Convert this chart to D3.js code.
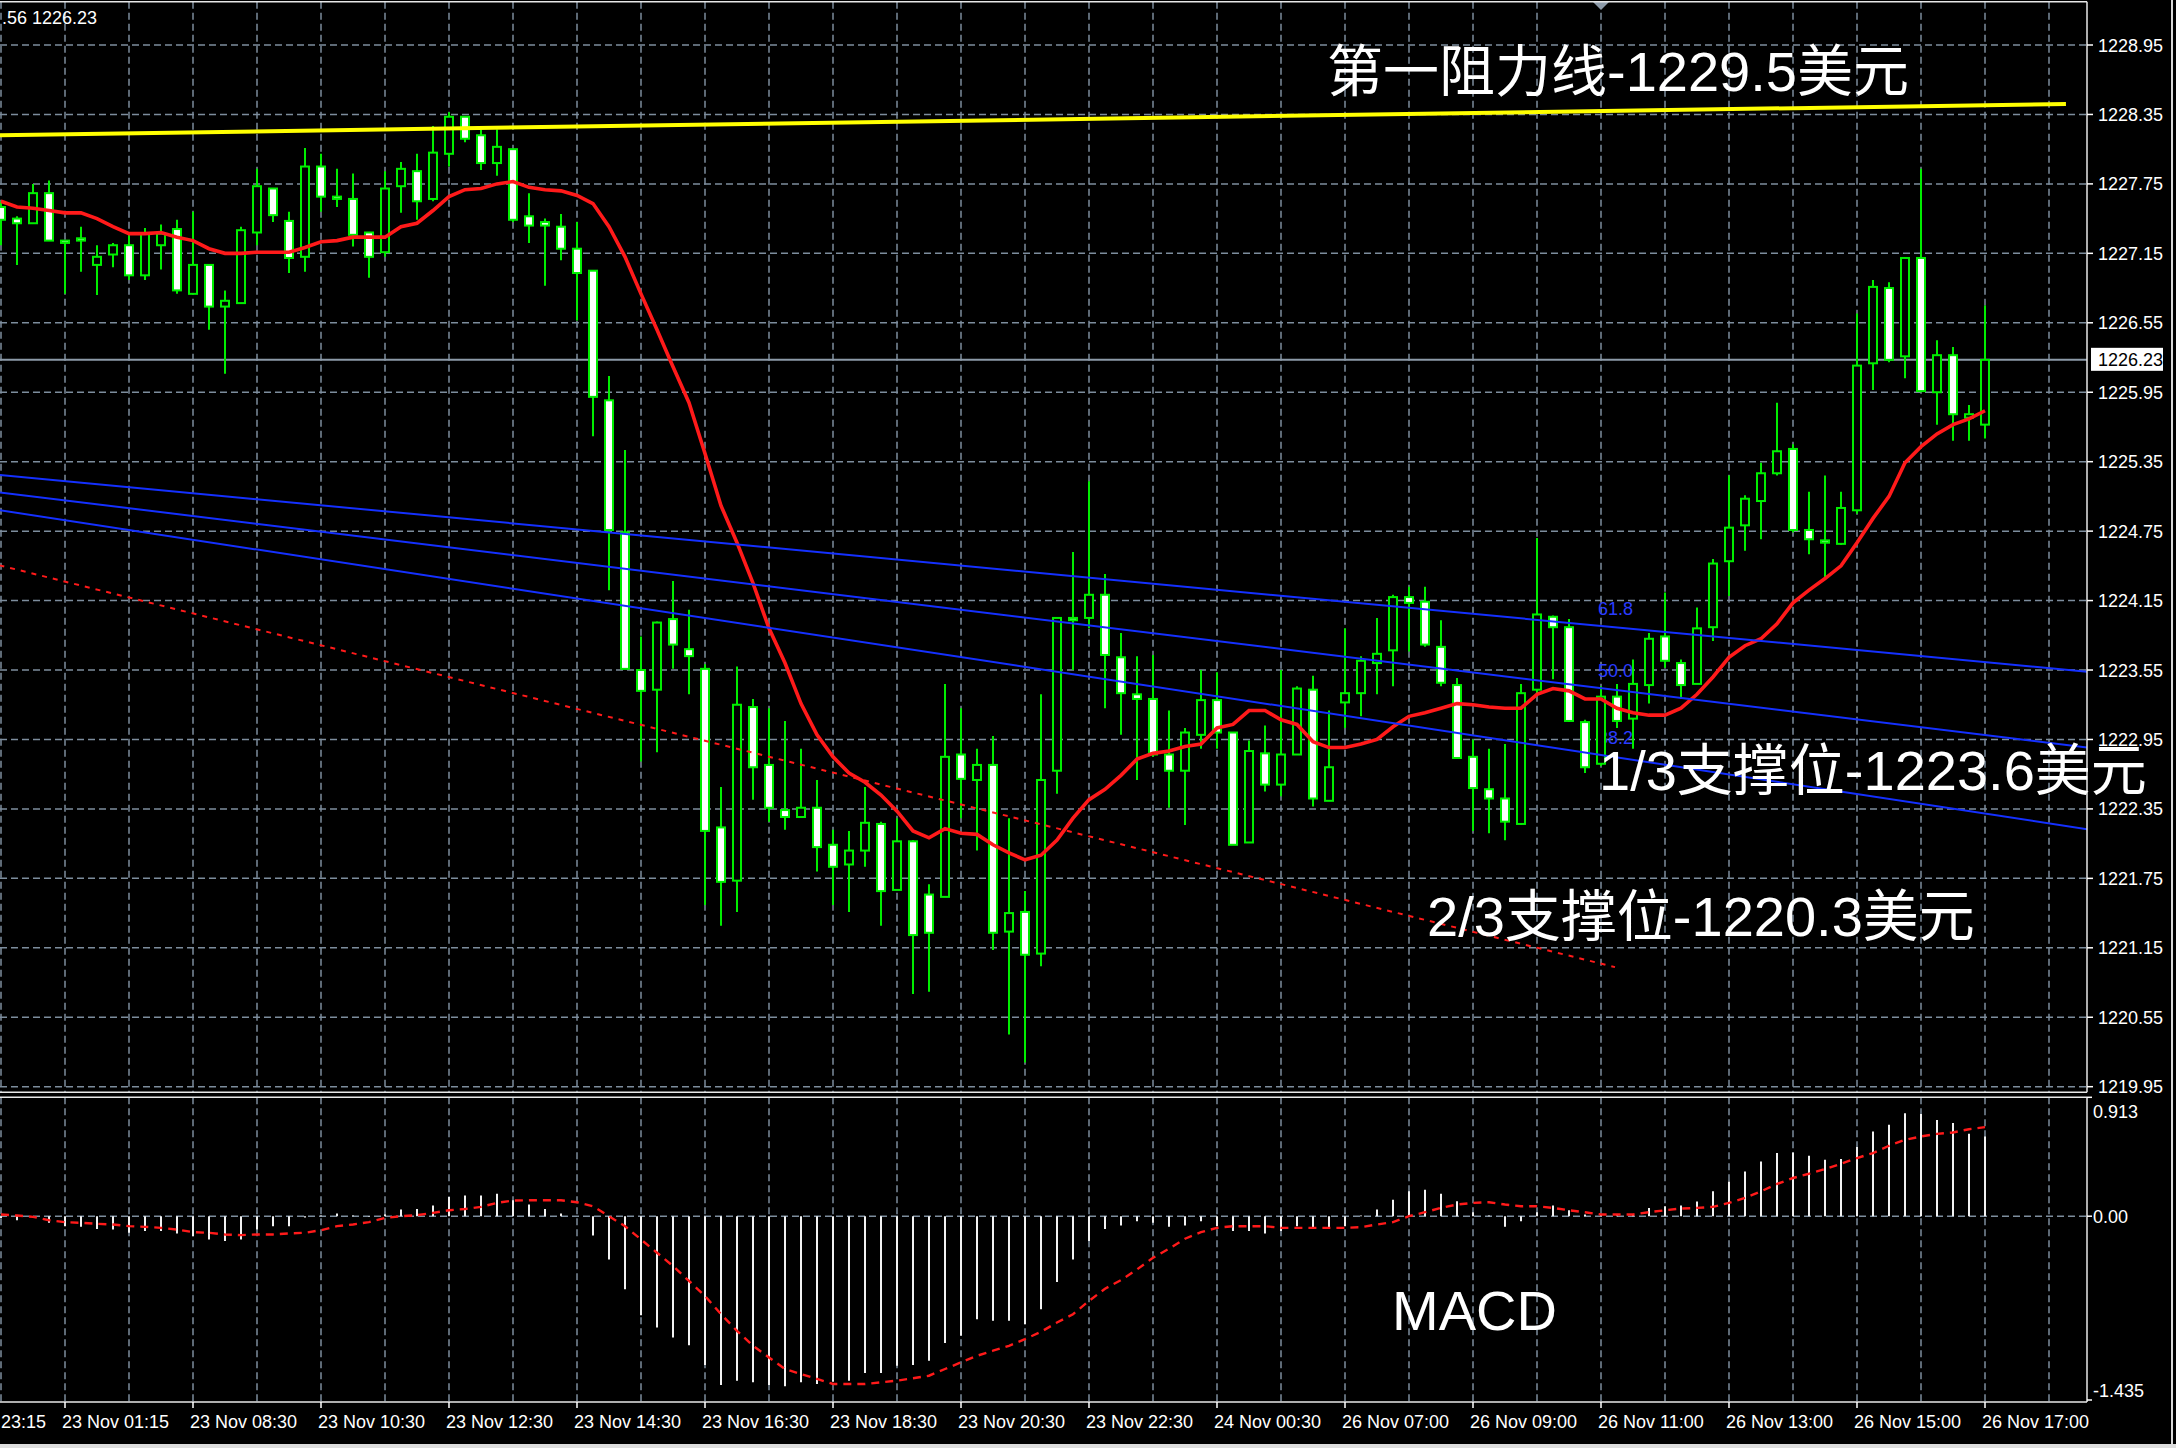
<!DOCTYPE html>
<html><head><meta charset="utf-8">
<script src="https://cdn.jsdelivr.net/npm/d3@7/dist/d3.min.js"></script>
<style>html,body{margin:0;padding:0;background:#000;}svg{display:block;}</style>
</head><body>
<svg id="c" width="2176" height="1448"></svg>
<script>
// ---------------- DATA ----------------
const opens = [1227.55,1227.45,1227.41,1227.67,1227.26,1227.28,1227.05,1227.14,1227.22,1226.96,
1227.22,1227.36,1226.80,1227.05,1226.69,1226.72,1227.33,1227.71,1227.43,1227.12,
1227.90,1227.64,1227.62,1227.33,1227.16,1227.73,1227.86,1227.62,1228.01,1228.33,
1228.17,1227.93,1228.05,1227.47,1227.42,1227.38,1227.19,1227.00,1225.88,1224.74,
1223.55,1223.38,1223.99,1223.73,1223.56,1222.19,1221.73,1223.23,1222.73,1222.34,
1222.28,1222.36,1222.04,1221.87,1221.99,1222.22,1221.65,1222.07,1221.61,1221.59,
1222.82,1222.60,1222.73,1221.29,1221.46,1221.10,1222.68,1224.00,1224.00,1224.20,
1223.66,1223.34,1223.30,1222.82,1222.68,1222.99,1223.29,1223.01,1222.06,1222.83,
1222.56,1222.82,1223.38,1222.42,1223.27,1223.35,1223.61,1223.72,1224.18,1224.14,
1223.75,1223.42,1222.80,1222.52,1222.44,1222.22,1223.38,1224.01,1223.92,1223.10,
1222.74,1223.32,1223.13,1223.42,1223.84,1223.61,1223.43,1223.92,1224.49,1224.80,
1225.01,1225.25,1225.46,1224.76,1224.67,1224.64,1224.93,1226.20,1226.85,1226.26,
1227.11,1225.95,1226.27,1225.73,1225.67];
const highs = [1227.60,1227.47,1227.75,1227.78,1227.26,1227.38,1227.22,1227.24,1227.31,1227.37,
1227.40,1227.44,1227.51,1227.05,1226.83,1227.38,1227.88,1227.71,1227.51,1228.06,
1228.01,1227.88,1227.84,1227.33,1227.86,1227.94,1228.01,1228.25,1228.37,1228.33,
1228.22,1228.22,1228.05,1227.67,1227.45,1227.49,1227.42,1227.00,1226.09,1225.45,
1223.84,1223.97,1224.32,1224.07,1223.60,1222.54,1223.58,1223.30,1223.22,1223.11,
1222.87,1222.60,1222.17,1222.16,1222.54,1222.24,1222.27,1222.08,1221.70,1223.43,
1223.22,1222.87,1222.98,1222.27,1221.64,1223.34,1224.00,1224.57,1225.18,1224.38,
1223.87,1223.67,1223.68,1223.20,1223.05,1223.55,1223.53,1223.01,1222.94,1223.07,
1223.55,1223.41,1223.50,1223.20,1223.91,1223.67,1224.00,1224.20,1224.27,1224.27,
1223.98,1223.48,1222.95,1222.87,1222.91,1223.43,1224.69,1224.02,1223.99,1223.12,
1223.41,1223.43,1223.64,1223.87,1224.22,1223.64,1224.09,1224.51,1225.23,1225.06,
1225.34,1225.86,1225.50,1225.09,1225.23,1225.09,1226.63,1226.92,1226.90,1227.11,
1227.88,1226.40,1226.34,1225.84,1226.70];
const lows = [1227.22,1227.05,1227.41,1227.26,1226.80,1226.99,1226.79,1227.03,1226.92,1226.92,
1227.01,1226.80,1226.80,1226.49,1226.11,1226.72,1227.22,1227.42,1226.98,1226.99,
1227.51,1227.55,1227.21,1226.94,1227.12,1227.50,1227.44,1227.60,1227.90,1228.11,
1227.87,1227.82,1227.42,1227.24,1226.87,1227.09,1226.57,1225.57,1224.24,1223.56,
1222.76,1222.84,1223.56,1223.34,1221.52,1221.34,1221.46,1222.43,1222.24,1222.17,
1222.28,1221.81,1221.52,1221.46,1221.85,1221.34,1221.65,1220.75,1220.77,1221.59,
1222.27,1221.99,1221.13,1220.40,1220.16,1220.99,1222.48,1223.55,1223.91,1223.22,
1222.99,1222.60,1222.80,1222.36,1222.21,1222.87,1222.87,1222.04,1222.06,1222.50,
1222.46,1222.82,1222.37,1222.42,1223.05,1223.15,1223.34,1223.41,1223.71,1223.75,
1223.41,1222.79,1222.16,1222.14,1222.08,1222.21,1223.34,1223.47,1223.10,1222.66,
1222.72,1223.05,1222.87,1223.26,1223.57,1223.30,1223.43,1223.80,1224.19,1224.58,
1224.68,1225.23,1224.74,1224.55,1224.34,1224.63,1224.90,1225.97,1226.21,1226.07,
1225.95,1225.67,1225.53,1225.53,1225.55];
const closes = [1227.44,1227.41,1227.67,1227.26,1227.24,1227.26,1227.12,1227.22,1226.96,1227.32,
1227.32,1226.83,1227.05,1226.69,1226.74,1227.35,1227.73,1227.48,1227.11,1227.90,
1227.64,1227.62,1227.31,1227.12,1227.71,1227.88,1227.60,1228.02,1228.33,1228.14,
1227.93,1228.07,1227.44,1227.39,1227.39,1227.19,1226.98,1225.91,1224.76,1223.56,
1223.37,1223.96,1223.77,1223.67,1222.16,1221.72,1223.25,1222.71,1222.36,1222.28,
1222.36,1222.02,1221.85,1221.99,1222.23,1221.64,1222.07,1221.26,1221.28,1222.80,
1222.61,1222.73,1221.28,1221.45,1221.09,1222.60,1224.00,1223.98,1224.20,1223.68,
1223.35,1223.30,1222.82,1222.68,1223.01,1223.29,1223.01,1222.04,1222.85,1222.56,
1222.82,1223.39,1222.44,1222.71,1223.35,1223.63,1223.69,1224.18,1224.13,1223.77,
1223.44,1222.79,1222.53,1222.44,1222.24,1223.35,1224.03,1223.92,1223.11,1222.71,
1223.32,1223.11,1223.43,1223.82,1223.63,1223.42,1223.91,1224.47,1224.78,1225.03,
1225.25,1225.44,1224.76,1224.68,1224.65,1224.95,1226.18,1226.86,1226.23,1227.11,
1225.96,1226.27,1225.76,1225.76,1226.23];
const maValues = [1227.60,1227.55,1227.54,1227.52,1227.50,1227.50,1227.45,1227.38,1227.32,1227.32,
1227.33,1227.29,1227.26,1227.19,1227.15,1227.15,1227.16,1227.16,1227.16,1227.20,
1227.25,1227.26,1227.29,1227.29,1227.29,1227.38,1227.41,1227.52,1227.64,1227.70,
1227.71,1227.75,1227.77,1227.72,1227.70,1227.69,1227.65,1227.58,1227.38,1227.12,
1226.80,1226.49,1226.17,1225.86,1225.42,1224.97,1224.65,1224.30,1223.91,1223.61,
1223.26,1222.99,1222.80,1222.66,1222.58,1222.47,1222.33,1222.16,1222.10,1222.18,
1222.14,1222.13,1222.04,1221.97,1221.91,1221.95,1222.08,1222.27,1222.43,1222.52,
1222.64,1222.78,1222.83,1222.85,1222.89,1222.91,1223.05,1223.08,1223.20,1223.20,
1223.12,1223.08,1222.93,1222.88,1222.88,1222.91,1222.95,1223.06,1223.15,1223.18,
1223.22,1223.26,1223.25,1223.23,1223.22,1223.22,1223.34,1223.39,1223.37,1223.30,
1223.30,1223.22,1223.18,1223.16,1223.16,1223.22,1223.34,1223.49,1223.66,1223.76,
1223.82,1223.95,1224.13,1224.24,1224.34,1224.45,1224.65,1224.86,1225.05,1225.34,
1225.48,1225.59,1225.67,1225.72,1225.79];
const macdHist = [-0.013,-0.031,-0.005,-0.051,-0.077,-0.082,-0.098,-0.103,-0.128,-0.115,
-0.115,-0.133,-0.154,-0.180,-0.192,-0.180,-0.103,-0.077,-0.077,-0.010,
0.005,0.021,0.005,-0.005,0.015,0.051,0.056,0.082,0.149,0.159,
0.159,0.174,0.123,0.090,0.056,0.021,0.000,-0.149,-0.334,-0.565,
-0.765,-0.860,-0.937,-0.996,-1.150,-1.304,-1.270,-1.283,-1.304,-1.314,
-1.283,-1.296,-1.278,-1.270,-1.211,-1.211,-1.155,-1.150,-1.116,-0.980,
-0.924,-0.795,-0.808,-0.808,-0.834,-0.719,-0.508,-0.334,-0.192,-0.098,
-0.072,-0.038,-0.051,-0.082,-0.072,-0.038,-0.077,-0.115,-0.115,-0.133,
-0.115,-0.077,-0.090,-0.090,-0.077,0.005,0.051,0.128,0.192,0.205,
0.174,0.115,0.031,0.005,-0.082,-0.038,0.031,0.082,0.046,0.013,
0.013,0.008,0.013,0.064,0.077,0.082,0.113,0.192,0.269,0.346,
0.423,0.488,0.493,0.467,0.436,0.441,0.534,0.654,0.706,0.795,
0.790,0.744,0.719,0.636,0.616];
const macdSignal = [0.013,0.005,-0.005,-0.031,-0.046,-0.051,-0.059,-0.064,-0.077,-0.082,
-0.090,-0.103,-0.123,-0.128,-0.141,-0.146,-0.141,-0.141,-0.133,-0.128,
-0.108,-0.077,-0.064,-0.046,-0.013,0.000,0.008,0.026,0.046,0.056,
0.072,0.103,0.121,0.123,0.123,0.123,0.108,0.077,0.000,-0.077,
-0.180,-0.282,-0.385,-0.500,-0.616,-0.757,-0.885,-1.001,-1.091,-1.180,
-1.219,-1.257,-1.296,-1.296,-1.296,-1.283,-1.270,-1.252,-1.232,-1.180,
-1.129,-1.078,-1.039,-1.001,-0.949,-0.893,-0.821,-0.757,-0.654,-0.560,
-0.493,-0.411,-0.321,-0.251,-0.174,-0.123,-0.090,-0.077,-0.077,-0.077,
-0.090,-0.090,-0.090,-0.090,-0.090,-0.085,-0.064,-0.046,0.000,0.031,
0.064,0.090,0.103,0.108,0.090,0.077,0.077,0.064,0.046,0.031,
0.013,0.013,0.013,0.031,0.046,0.059,0.064,0.072,0.103,0.141,
0.192,0.249,0.295,0.328,0.364,0.405,0.449,0.488,0.544,0.590,
0.616,0.636,0.647,0.672,0.688];
const priceTicks = [1228.95,1228.35,1227.75,1227.15,1226.55,1225.95,1225.35,1224.75,1224.15,1223.55,1222.95,1222.35,1221.75,1221.15,1220.55,1219.95];
const priceTickLabels = ["1228.95","1228.35","1227.75","1227.15","1226.55","1225.95","1225.35","1224.75","1224.15","1223.55","1222.95","1222.35","1221.75","1221.15","1220.55","1219.95"];
const macdTicks = [0.913, 0.0, -1.435];
const macdTickLabels = ["0.913","0.00","-1.435"];
const timeLabelBars = [4,12,20,28,36,44,52,60,68,76,84,92,100,108,116,124];
const timeLabels = ["23 Nov 01:15","23 Nov 08:30","23 Nov 10:30","23 Nov 12:30","23 Nov 14:30","23 Nov 16:30","23 Nov 18:30","23 Nov 20:30","23 Nov 22:30","24 Nov 00:30","26 Nov 07:00","26 Nov 09:00","26 Nov 11:00","26 Nov 13:00","26 Nov 15:00","26 Nov 17:00"];
const firstPartialLabel = "23:15";
const bidPrice = 1226.23;
const headerText = ".56 1226.23";
// trend lines: [[bar, price],[bar, price]]
const resistanceLine = [[-0.1, 1228.17],[129.06, 1228.44]];
const fibLines = [[[-0.1,1225.235],[130.5,1223.534]],[[-0.1,1225.085],[130.5,1222.879]],[[-0.1,1224.931],[130.5,1222.172]]];
const fibLabels = ["61.8","50.0","38.2"];
const supportDashed = [[-0.1,1224.455],[100.875,1220.983]];
const annotations = ["第一阻力线-1229.5美元","1/3支撑位-1223.6美元","2/3支撑位-1220.3美元"];

// ---------------- DRAW ----------------
const W=2176,H=1448, RIGHT=2087;
const MAIN_TOP=1.7, MAIN_BOT=1092.3, MACD_TOP=1097.3, MACD_BOT=1402;
const svg=d3.select('#c');
const AXF='"Liberation Sans","DejaVu Sans",Arial,sans-serif';
const BIGF='"Liberation Sans","Noto Sans CJK SC",Arial,sans-serif';
svg.append('rect').attr('width',W).attr('height',H).attr('fill','#000');

const x=d3.scaleLinear().domain([0,124]).range([1,1985]);
const y=d3.scaleLinear().domain([1219.95,1228.95]).range([1086.7,45]);
const ym=d3.scaleLinear().domain([-1.435,0.913]).range([1402,1098]);

const defs=svg.append('defs');
defs.append('clipPath').attr('id','cm').append('rect').attr('x',0).attr('y',MAIN_TOP).attr('width',RIGHT).attr('height',MAIN_BOT-MAIN_TOP);
defs.append('clipPath').attr('id','cd').append('rect').attr('x',0).attr('y',MACD_TOP).attr('width',RIGHT).attr('height',MACD_BOT-MACD_TOP);

const gridC='#7d8d9d';
const gm=svg.append('g').attr('clip-path','url(#cm)');
const gd=svg.append('g').attr('clip-path','url(#cd)');

// vertical grid
const vBars=d3.range(0,131,4);
[ [gm,MAIN_TOP,MAIN_BOT],[gd,MACD_TOP,MACD_BOT] ].forEach(([g,t,b])=>{
  g.selectAll(null).data(vBars).join('line')
   .attr('x1',d=>x(d)).attr('x2',d=>x(d)).attr('y1',t).attr('y2',b)
   .attr('stroke',gridC).attr('stroke-width',1.5).attr('stroke-dasharray','7,4');
});
// horizontal grid
gm.selectAll(null).data(priceTicks).join('line')
  .attr('x1',0).attr('x2',RIGHT).attr('y1',d=>y(d)).attr('y2',d=>y(d))
  .attr('stroke',gridC).attr('stroke-width',1.5).attr('stroke-dasharray','7,4');
gd.append('line').attr('x1',0).attr('x2',RIGHT).attr('y1',ym(0)).attr('y2',ym(0))
  .attr('stroke',gridC).attr('stroke-width',1.5).attr('stroke-dasharray','7,4');

// bid line
gm.append('line').attr('x1',0).attr('x2',RIGHT).attr('y1',y(bidPrice)).attr('y2',y(bidPrice))
  .attr('stroke','#8c9aa8').attr('stroke-width',2);

// fib labels (behind candles)
const fibAt = (ln,b)=>{const [a,c]=ln; return a[1]+(c[1]-a[1])*(b-a[0])/(c[0]-a[0]);};
gm.selectAll(null).data(fibLabels).join('text')
  .attr('x',x(100)-3).attr('y',(d,i)=>y(fibAt(fibLines[i],100))-11)
  .attr('fill','#2a3cff').attr('font-family',AXF).attr('font-size',18).text(d=>d);

// candles
const bars=d3.range(opens.length).map(i=>({i,o:opens[i],h:highs[i],l:lows[i],c:closes[i]}));
gm.selectAll('line.w').data(bars).join('line').attr('class','w')
  .attr('x1',d=>x(d.i)).attr('x2',d=>x(d.i)).attr('y1',d=>y(d.h)).attr('y2',d=>y(d.l))
  .attr('stroke','#00ee00').attr('stroke-width',2);
gm.selectAll('rect.b').data(bars).join('rect').attr('class','b')
  .attr('x',d=>x(d.i)-4).attr('width',8)
  .attr('y',d=>Math.min(y(d.o),y(d.c))).attr('height',d=>Math.max(1.5,Math.abs(y(d.o)-y(d.c))))
  .attr('fill',d=>d.c<d.o?'#ffffff':'#000000').attr('stroke','#00ee00').attr('stroke-width',2);

// moving average
gm.append('path').datum(maValues)
  .attr('d',d3.line().x((d,i)=>x(i)).y(d=>y(d)))
  .attr('fill','none').attr('stroke','#ff1a1a').attr('stroke-width',3.6);

// trend lines
const tl=d3.line().x(d=>x(d[0])).y(d=>y(d[1]));
fibLines.forEach(ln=>gm.append('path').attr('d',tl(ln)).attr('fill','none').attr('stroke','#1430ff').attr('stroke-width',2));
gm.append('path').attr('d',tl(supportDashed)).attr('fill','none').attr('stroke','#ff1a1a').attr('stroke-width',2).attr('stroke-dasharray','5,6');
gm.append('path').attr('d',tl(resistanceLine)).attr('fill','none').attr('stroke','#ffff00').attr('stroke-width',4);

// shift marker
svg.append('path').attr('d','M1593,2 L1609,2 L1601,10 Z').attr('fill','#8c9aa8');

// header text
svg.append('text').attr('x',2).attr('y',23.5).attr('fill','#fff').attr('font-family',AXF).attr('font-size',18).text(headerText);

// MACD histogram + signal
gd.selectAll(null).data(macdHist).join('line')
  .attr('x1',(d,i)=>x(i)).attr('x2',(d,i)=>x(i)).attr('y1',ym(0)).attr('y2',d=>ym(d))
  .attr('stroke','#f2f2f2').attr('stroke-width',2);
gd.append('path').datum(macdSignal)
  .attr('d',d3.line().x((d,i)=>x(i)).y(d=>ym(d)))
  .attr('fill','none').attr('stroke','#ff1a1a').attr('stroke-width',2.4).attr('stroke-dasharray','8,6');

// frames
const fr='#e8e8e8';
svg.append('line').attr('x1',0).attr('x2',RIGHT).attr('y1',MAIN_TOP).attr('y2',MAIN_TOP).attr('stroke',fr).attr('stroke-width',1.5);
svg.append('line').attr('x1',0).attr('x2',RIGHT).attr('y1',MAIN_BOT).attr('y2',MAIN_BOT).attr('stroke',fr).attr('stroke-width',1.5);
svg.append('line').attr('x1',0).attr('x2',RIGHT).attr('y1',MACD_TOP).attr('y2',MACD_TOP).attr('stroke',fr).attr('stroke-width',1.5);
svg.append('line').attr('x1',0).attr('x2',RIGHT).attr('y1',MACD_BOT).attr('y2',MACD_BOT).attr('stroke',fr).attr('stroke-width',1.5);
svg.append('line').attr('x1',RIGHT).attr('x2',RIGHT).attr('y1',MAIN_TOP).attr('y2',MAIN_BOT).attr('stroke',fr).attr('stroke-width',1.5);
svg.append('line').attr('x1',RIGHT).attr('x2',RIGHT).attr('y1',MACD_TOP).attr('y2',MACD_BOT).attr('stroke',fr).attr('stroke-width',1.5);

// price axis
const pa=svg.append('g');
pa.selectAll(null).data(priceTicks).join('line')
  .attr('x1',RIGHT).attr('x2',RIGHT+6).attr('y1',d=>y(d)).attr('y2',d=>y(d)).attr('stroke','#fff').attr('stroke-width',1.5);
pa.selectAll(null).data(priceTicks).join('text')
  .attr('x',2098).attr('y',d=>y(d)+6.5).attr('fill','#fff').attr('font-family',AXF).attr('font-size',18)
  .text((d,i)=>priceTickLabels[i]);
// bid box
pa.append('rect').attr('x',2091).attr('y',y(bidPrice)-12).attr('width',72).attr('height',23).attr('fill','#fff');
pa.append('text').attr('x',2098).attr('y',y(bidPrice)+6.5).attr('fill','#000').attr('font-family',AXF).attr('font-size',18).text(bidPrice.toFixed(2));

// MACD axis
const ma=svg.append('g');
const macdLabelY=[1111,ym(0),1390];
ma.selectAll(null).data(macdTicks).join('line')
  .attr('x1',RIGHT).attr('x2',RIGHT+5).attr('y1',(d,i)=>i===0?MACD_TOP:(i===2?MACD_BOT-2:ym(d))).attr('y2',(d,i)=>i===0?MACD_TOP:(i===2?MACD_BOT-2:ym(d)))
  .attr('stroke','#fff').attr('stroke-width',1.5);
ma.selectAll(null).data(macdTicks).join('text')
  .attr('x',2093).attr('y',(d,i)=>macdLabelY[i]+6.5).attr('fill','#fff').attr('font-family',AXF).attr('font-size',18)
  .text((d,i)=>macdTickLabels[i]);

// time axis
const ta=svg.append('g');
ta.selectAll(null).data(timeLabelBars).join('line')
  .attr('x1',d=>x(d)).attr('x2',d=>x(d)).attr('y1',MACD_BOT).attr('y2',MACD_BOT+6).attr('stroke','#fff').attr('stroke-width',1.5);
ta.selectAll(null).data(timeLabelBars).join('text')
  .attr('x',d=>x(d)-3).attr('y',1428).attr('fill','#fff').attr('font-family',AXF).attr('font-size',18)
  .text((d,i)=>timeLabels[i]);
ta.append('text').attr('x',1).attr('y',1428).attr('fill','#fff').attr('font-family',AXF).attr('font-size',18).text(firstPartialLabel);

// annotations
const annPos=[[1327,91],[1599,790],[1427,936]];
svg.selectAll('text.ann').data(annotations).join('text').attr('class','ann')
  .attr('x',(d,i)=>annPos[i][0]).attr('y',(d,i)=>annPos[i][1])
  .attr('fill','#fff').attr('font-family',BIGF).attr('font-size',56).text(d=>d);
svg.append('text').attr('x',1392).attr('y',1330).attr('fill','#fff').attr('font-family',BIGF).attr('font-size',56).text('MACD');

// window frame
svg.append('line').attr('x1',2172).attr('x2',2172).attr('y1',0).attr('y2',1444).attr('stroke','#d8d8d8').attr('stroke-width',2);
svg.append('rect').attr('x',0).attr('y',1444).attr('width',W).attr('height',4).attr('fill','#dedede');
</script>
</body></html>
